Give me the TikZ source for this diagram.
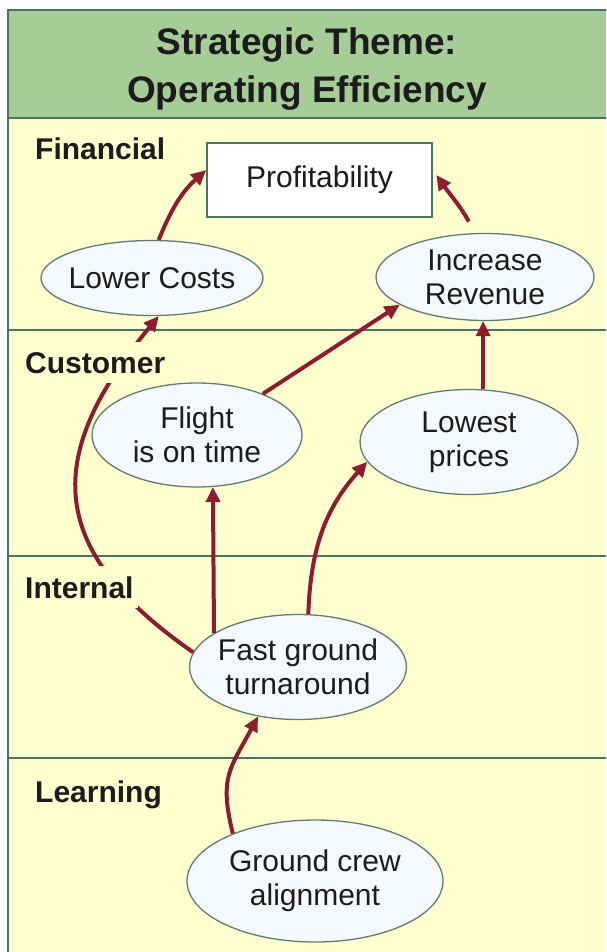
\documentclass[tikz,border=0pt]{standalone}
\usepackage{fontspec}
\setmainfont{Liberation Sans}
\usetikzlibrary{shapes.geometric,arrows.meta}

\definecolor{headgreen}{HTML}{A6CD98}
\definecolor{panelyellow}{HTML}{FFFFD0}
\definecolor{framegreen}{HTML}{4A7566}
\definecolor{bubblefill}{HTML}{F5F9FC}
\definecolor{bubbleline}{HTML}{5E7D74}
\definecolor{linkred}{HTML}{8C1C2E}
\definecolor{inktext}{HTML}{1C1C1C}

\tikzset{
  bubble/.style={ellipse, draw=bubbleline, line width=1.3pt, fill=bubblefill,
    inner sep=-12pt, align=center, text=inktext,
    font=\fontsize{30}{34}\selectfont},
  goalbox/.style={rectangle, draw=framegreen, line width=1.8pt, fill=white,
    inner sep=0pt, text=inktext, font=\fontsize{30}{34}\selectfont},
  perspective/.style={anchor=base west, fill=panelyellow, inner xsep=4pt,
    inner ysep=10pt, text=inktext, font=\bfseries\fontsize{30}{34}\selectfont},
  link/.style={draw=linkred, line width=4pt,
    -{Triangle[length=15pt,width=14pt]}},
  divider/.style={draw=framegreen, line width=1.6pt}
}

\begin{document}
\begin{tikzpicture}[x=1pt,y=1pt]
\useasboundingbox (0,0) rectangle (606,-952);
\clip (0,0) rectangle (606,-952);

% panels and header band
\fill[panelyellow] (8,-118) rectangle (620,-960);
\fill[headgreen] (8,-10) rectangle (620,-118);
\draw[divider] (620,-10) -- (8,-10) -- (8,-960);
\draw[divider] (8,-118) -- (620,-118);
\draw[divider] (8,-330) -- (620,-330);
\draw[divider] (8,-556) -- (620,-556);
\draw[divider] (8,-758) -- (620,-758);

\node[align=center, text=inktext, font=\bfseries\fontsize{37}{48}\selectfont]
  (theme) at (307,-69) {Strategic Theme:\\Operating Efficiency};

% objectives
\node[goalbox, minimum width=225pt, minimum height=74pt] (prof) at (319.5,-180) {Profitability};
\node[bubble, minimum width=222pt, minimum height=75pt] (lower) at (152,-278) {Lower Costs};
\node[bubble, minimum width=218pt, minimum height=87pt] (incr) at (485,-277) {Increase\\Revenue};
\node[bubble, minimum width=210pt, minimum height=104pt] (flight) at (197,-435) {Flight\\is on time};
\node[bubble, minimum width=218pt, minimum height=105pt] (lowest) at (469,-442) {Lowest\\prices};
\node[bubble, minimum width=217pt, minimum height=105pt] (fast) at (298,-667) {Fast ground\\turnaround};
\node[bubble, minimum width=256pt, minimum height=122pt] (crew) at (315,-881) {Ground crew\\alignment};

% cause-and-effect links
\draw[link] (lower.80) to[out=68, in=222] (prof.175);
\draw[link, shorten <=13pt, shorten >=6pt] (incr.103) to[out=118, in=-55] (prof.5);
\draw[link] (flight.32) -- (incr.198);
\draw[link] (lowest.75) -- (lowest.75 |- incr.south);
\draw[link] (fast.158) -- (flight.287);
\draw[link] (fast.79) to[out=88, in=228] (lowest.191);
\draw[link] (fast.172) .. controls (43,-548) and (45,-454) .. (lower.280);
\draw[link] (crew.150) to[out=104, in=242, looseness=1.25] (fast.231);

% perspective labels
\node[perspective] (fin) at (31,-160) {Financial};
\node[perspective] (cust) at (21,-373) {Customer};
\node[perspective] (intl) at (21,-598) {Internal};
\node[perspective] (learn) at (31,-802) {Learning};
\end{tikzpicture}
\end{document}
